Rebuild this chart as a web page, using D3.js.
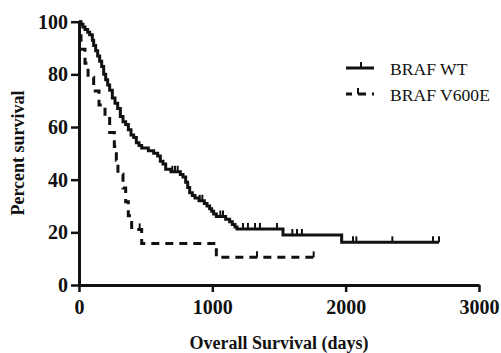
<!DOCTYPE html>
<html>
<head>
<meta charset="utf-8">
<script src="https://cdn.jsdelivr.net/npm/d3@7"></script>
<style>
  body { margin: 0; background: #fff; }
  svg { display: block; }
</style>
</head>
<body>
<svg id="chart" width="501" height="353"></svg>
<script>
// BRAF WT survival (step after each time)
const wtTime = [0, 15, 30, 45, 65, 80, 100, 110, 125, 140, 155, 170, 185, 200, 215, 230, 250, 270, 290, 310,
  330, 350, 370, 390, 410, 430, 450, 470, 520, 560, 590, 610, 630, 650, 690, 760, 780, 800, 815, 830,
  850, 870, 900, 940, 960, 980, 995, 1010, 1030, 1100, 1130, 1150, 1170, 1185, 1530, 1970, 2700];
const wtSurv = [100, 99, 98, 97, 96, 95, 93, 91, 89, 87, 85, 83, 80, 78, 76, 74, 71, 69, 67, 64,
  62, 61, 59, 57, 56, 54, 53, 52, 51, 50, 49, 47, 46, 44, 43, 42, 41, 39, 37, 35,
  34, 33, 32, 31, 30, 29, 28, 27, 26, 25, 24, 23, 22, 21.3, 19, 16.2, 16.2];
const wtCensor = [700, 720, 740, 905, 925, 1060, 1080, 1230, 1267, 1320, 1357, 1485,
  1600, 1635, 1672, 2055, 2080, 2350, 2655, 2700];

// BRAF V600E survival
const mutTime = [0, 5, 15, 45, 68, 110, 150, 195, 230, 265, 280, 292, 330, 350, 370, 395, 470, 1030, 1760];
const mutSurv = [100, 94.7, 89.5, 84.2, 78.9, 73.7, 68.4, 63.2, 57.9, 52.6, 47.4, 42.1, 36.8, 31.6, 26.3, 21.1, 15.8, 10.5, 10.5];
const mutCensor = [455, 1335, 1760];

const xTicks = [0, 1000, 2000, 3000];
const yTicks = [0, 20, 40, 60, 80, 100];
const legendLabels = ['BRAF WT', 'BRAF V600E'];

const ink = '#111';
const margin = { left: 79, right: 22, top: 21.7, bottom: 68 };
const width = 501, height = 353;

const svg = d3.select('#chart');

const x = d3.scaleLinear().domain([0, 3000]).range([margin.left, width - margin.right]);
const y = d3.scaleLinear().domain([0, 100]).range([height - margin.bottom, margin.top]);

function survAt(times, surv, t) {
  let s = surv[0];
  for (let i = 0; i < times.length; i++) if (times[i] <= t) s = surv[i];
  return s;
}

const line = d3.line()
  .x(d => x(d[0]))
  .y(d => y(d[1]))
  .curve(d3.curveStepAfter);

const series = [
  { time: wtTime, surv: wtSurv, censor: wtCensor, dash: null, legendDash: null, tickAt: 15 },
  { time: mutTime, surv: mutSurv, censor: mutCensor, dash: '8,6', legendDash: '6,6,8,6', tickAt: 12 }
];

const plot = svg.append('g');

series.forEach(s => {
  plot.append('path')
    .datum(s.time.map((t, i) => [t, s.surv[i]]))
    .attr('fill', 'none')
    .attr('stroke', ink)
    .attr('stroke-width', 3)
    .attr('stroke-dasharray', s.dash)
    .attr('d', line);

  plot.append('g')
    .selectAll('line')
    .data(s.censor)
    .join('line')
    .attr('x1', d => x(d))
    .attr('x2', d => x(d))
    .attr('y1', d => y(survAt(s.time, s.surv, d)))
    .attr('y2', d => y(survAt(s.time, s.surv, d)) - 6)
    .attr('stroke', ink)
    .attr('stroke-width', 2);
});

// axes
const xAxis = svg.append('g')
  .attr('transform', `translate(0,${y(0)})`)
  .call(d3.axisBottom(x).tickValues(xTicks).tickFormat(d3.format('d'))
    .tickSize(7).tickSizeOuter(0).tickPadding(8));
const yAxis = svg.append('g')
  .attr('transform', `translate(${x(0)},0)`)
  .call(d3.axisLeft(y).tickValues(yTicks).tickFormat(d3.format('d'))
    .tickSize(8).tickSizeOuter(0).tickPadding(3));

[xAxis, yAxis].forEach(a => {
  a.select('.domain').attr('stroke', ink).attr('stroke-width', 3);
  a.selectAll('.tick line').attr('stroke', ink).attr('stroke-width', 2.5);
  a.selectAll('.tick text')
    .attr('fill', ink)
    .attr('font-family', '"Liberation Serif", "DejaVu Serif", serif')
    .attr('font-weight', 'bold')
    .attr('font-size', 20);
});

// axis titles
svg.append('text')
  .attr('x', (x(0) + x(3000)) / 2)
  .attr('y', 349)
  .attr('text-anchor', 'middle')
  .attr('font-family', '"Liberation Serif", serif')
  .attr('font-weight', 'bold')
  .attr('font-size', 18)
  .attr('fill', ink)
  .text('Overall Survival (days)');

svg.append('text')
  .attr('transform', 'translate(24,153) rotate(-90)')
  .attr('text-anchor', 'middle')
  .attr('font-family', '"Liberation Serif", serif')
  .attr('font-weight', 'bold')
  .attr('font-size', 18)
  .attr('fill', ink)
  .text('Percent survival');

// legend
const legend = svg.append('g').attr('transform', 'translate(346,68)');
const items = legend.selectAll('g')
  .data(legendLabels)
  .join('g')
  .attr('transform', (d, i) => `translate(0,${i * 26})`);

items.append('line')
  .attr('x1', 0).attr('x2', 28).attr('y1', 0).attr('y2', 0)
  .attr('stroke', ink)
  .attr('stroke-width', 3)
  .attr('stroke-dasharray', (d, i) => series[i].legendDash);

items.append('line')
  .attr('x1', (d, i) => series[i].tickAt)
  .attr('x2', (d, i) => series[i].tickAt)
  .attr('y1', 0).attr('y2', -6)
  .attr('stroke', ink)
  .attr('stroke-width', 2);

items.append('text')
  .attr('x', 44)
  .attr('y', 7)
  .attr('font-family', '"Liberation Serif", serif')
  .attr('font-size', 17.6)
  .attr('fill', ink)
  .text(d => d);
</script>
</body>
</html>
